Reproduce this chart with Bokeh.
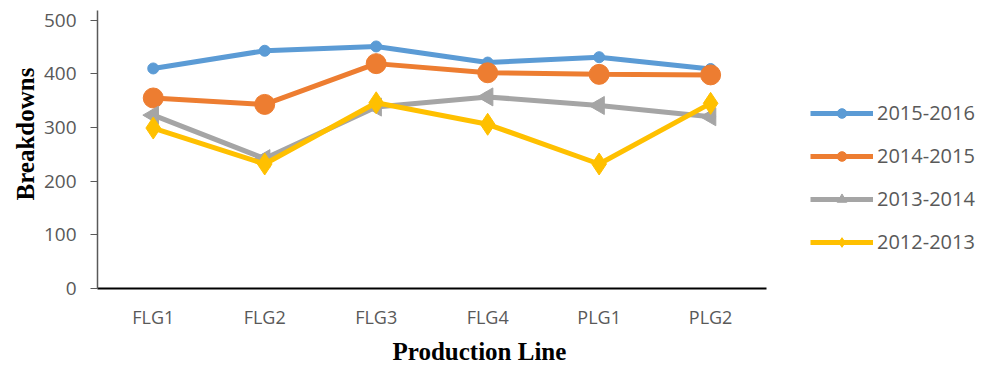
from bokeh.plotting import figure
from bokeh.models import Range1d, Legend, LegendItem, FixedTicker, Title
from bokeh.embed import file_html
from bokeh.resources import INLINE

# Breakdowns per production line, by fiscal year
lines = ["FLG1", "FLG2", "FLG3", "FLG4", "PLG1", "PLG2"]
y2015_2016 = [410, 443, 451, 421, 431, 409]
y2014_2015 = [355, 343, 419, 402, 399, 398]
y2013_2014 = [323, 242, 338, 357, 341, 320]
y2012_2013 = [299, 232, 346, 306, 232, 345]

series_names = ["2015-2016", "2014-2015", "2013-2014", "2012-2013"]
colors = ["#5B9BD5", "#ED7D31", "#A5A5A5", "#FFC000"]

xpos = list(range(len(lines)))

# the x range reaches past the last category so the legend sits to the right of the axis
p = figure(
    width=981, height=369,
    x_range=Range1d(-0.5, 7.43), y_range=Range1d(0, 518),
    output_backend="svg", toolbar_location=None,
    min_border_left=97, min_border_top=10, min_border_bottom=81, min_border_right=0,
)
p.outline_line_color = None
p.xgrid.visible = False
p.ygrid.visible = False
p.background_fill_color = "white"
p.border_fill_color = "white"

items = []
# 2015-2016: line with small dots
r1 = p.line(xpos, y2015_2016, line_color=colors[0], line_width=5)
m1 = p.scatter(xpos, y2015_2016, marker="circle", size=11, color=colors[0])
items.append(LegendItem(label=series_names[0], renderers=[r1, m1]))
# 2014-2015: large round markers
r2 = p.line(xpos, y2014_2015, line_color=colors[1], line_width=5)
m2 = p.scatter(xpos, y2014_2015, marker="circle", size=20, color=colors[1])
items.append(LegendItem(label=series_names[1], renderers=[r2, m2]))
# 2013-2014: left-pointing arrow heads
r3 = p.line(xpos, y2013_2014, line_color=colors[2], line_width=5)
m3b = p.scatter(xpos, y2013_2014, marker="circle", size=10, color=colors[2])
m3 = p.scatter(xpos, y2013_2014, marker="triangle", size=18, angle=1.5708, color=colors[2])
items.append(LegendItem(label=series_names[2], renderers=[r3, m3]))
# 2012-2013: diamond markers
r4 = p.line(xpos, y2012_2013, line_color=colors[3], line_width=5)
m4 = p.scatter(xpos, y2012_2013, marker="diamond", size=22, color=colors[3])
items.append(LegendItem(label=series_names[3], renderers=[r4, m4]))

legend = Legend(items=items, location=(713, 33))
legend.border_line_color = None
legend.background_fill_alpha = 0
legend.label_text_font = "Open Sans"
legend.label_text_font_size = "20px"
legend.label_text_color = "#595959"
legend.glyph_width = 63
legend.glyph_height = 24
legend.label_height = 24
legend.label_standoff = 4
legend.spacing = 16
legend.padding = 0
legend.margin = 0
p.add_layout(legend, "center")

# axes
p.yaxis.ticker = [0, 100, 200, 300, 400, 500]
p.yaxis.axis_line_color = "#595959"
p.yaxis.axis_line_width = 1.5
p.yaxis.major_tick_line_color = "#595959"
p.yaxis.major_tick_out = 7
p.yaxis.major_tick_in = 0
p.yaxis.minor_tick_line_color = None
p.yaxis.major_label_text_font = "Open Sans"
p.yaxis.major_label_text_font_size = "19px"
p.yaxis.major_label_text_color = "#595959"
p.yaxis.major_label_standoff = 14

p.xaxis.ticker = FixedTicker(ticks=xpos)
p.xaxis.major_label_overrides = {i: name for i, name in zip(xpos, lines)}
p.xaxis.bounds = (-0.5, len(lines) - 0.5)
p.xaxis.axis_line_color = "black"
p.xaxis.axis_line_width = 2
p.xaxis.major_tick_line_color = None
p.xaxis.minor_tick_line_color = None
p.xaxis.major_label_text_font = "Open Sans"
p.xaxis.major_label_text_font_size = "18px"
p.xaxis.major_label_text_color = "#595959"
p.xaxis.major_label_standoff = 10

# axis titles, placed under and beside the category span
x_title = Title(text="Production Line", align="left", offset=295, standoff=9,
                text_font="Liberation Serif", text_font_style="bold",
                text_font_size="25px", text_color="black")
p.add_layout(x_title, "below")
y_title = Title(text="Breakdowns", align="left", offset=88, standoff=4,
                text_font="Liberation Serif", text_font_style="bold",
                text_font_size="25px", text_color="black")
p.add_layout(y_title, "left")

open("out.html", "w").write(file_html(p, INLINE))
